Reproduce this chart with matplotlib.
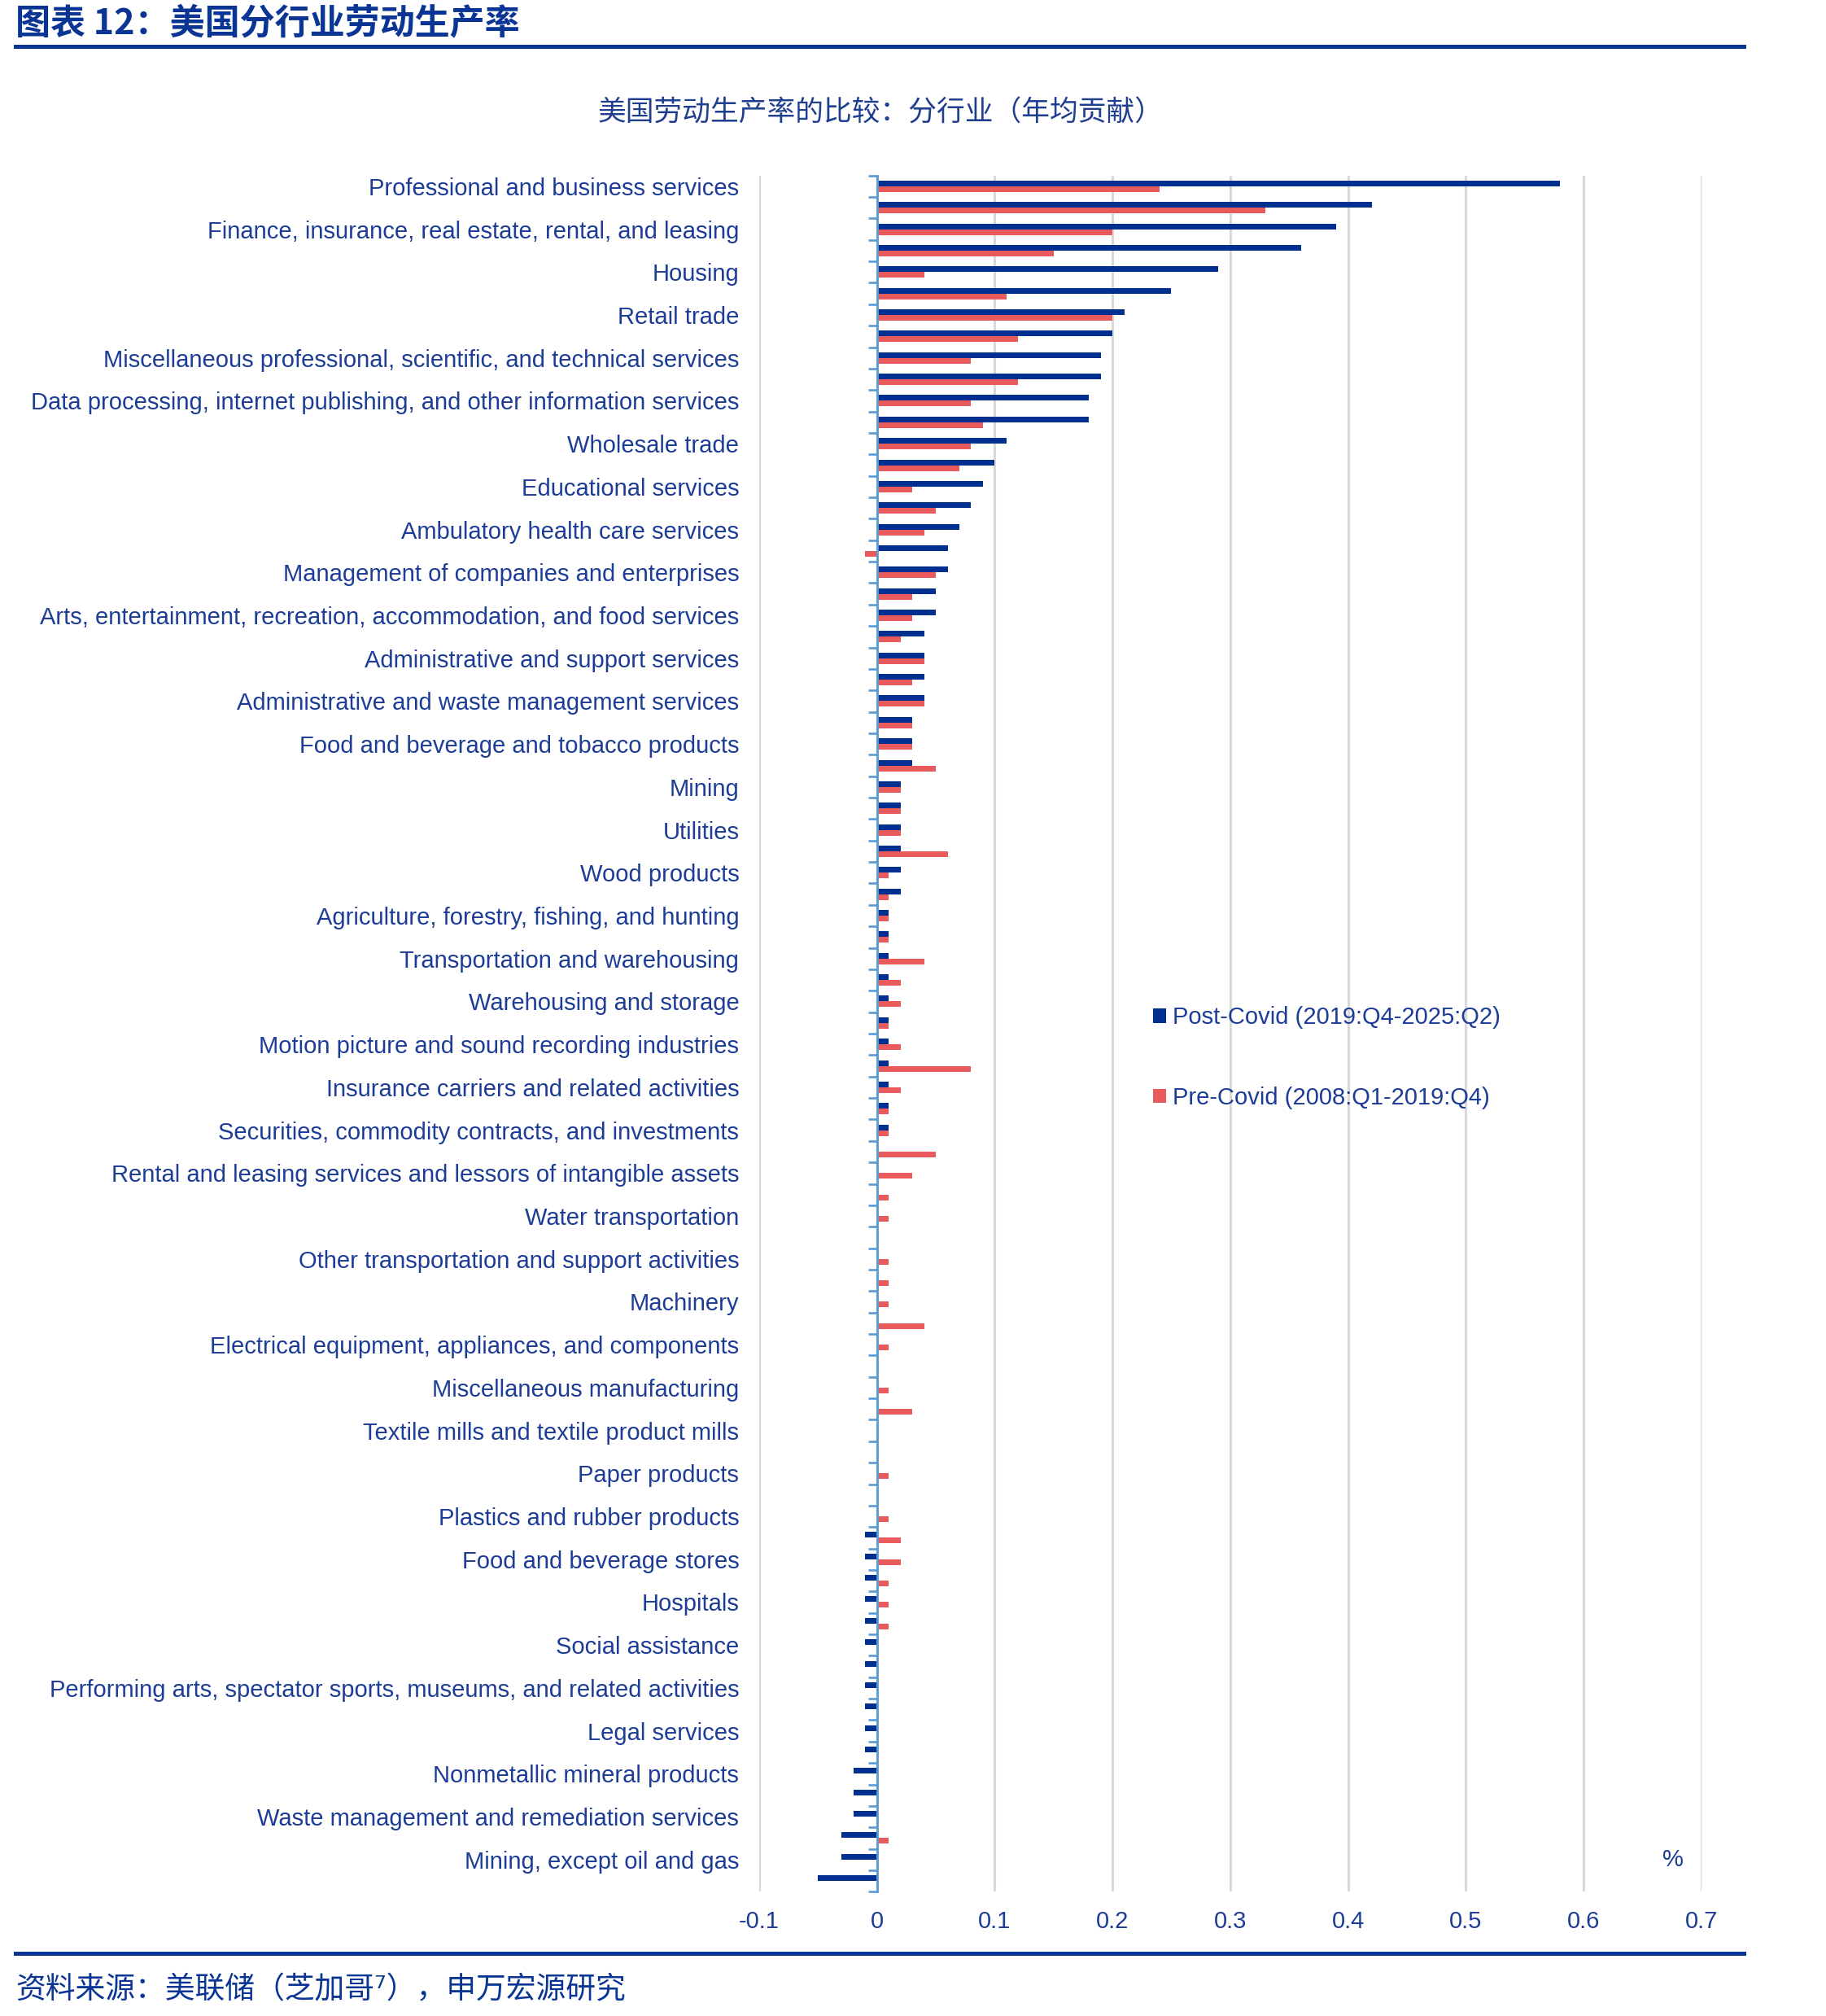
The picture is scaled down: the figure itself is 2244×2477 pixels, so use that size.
import numpy as np
import matplotlib
matplotlib.use("Agg")
import matplotlib.pyplot as plt
from matplotlib.lines import Line2D

plt.rcParams['font.family'] = ['Liberation Sans', 'Noto Sans CJK SC', 'DejaVu Sans']

# ---------------- data ----------------
shown_labels = [
    "Professional and business services",
    "Finance, insurance, real estate, rental, and leasing",
    "Housing",
    "Retail trade",
    "Miscellaneous professional, scientific, and technical services",
    "Data processing, internet publishing, and other information services",
    "Wholesale trade",
    "Educational services",
    "Ambulatory health care services",
    "Management of companies and enterprises",
    "Arts, entertainment, recreation, accommodation, and food services",
    "Administrative and support services",
    "Administrative and waste management services",
    "Food and beverage and tobacco products",
    "Mining",
    "Utilities",
    "Wood products",
    "Agriculture, forestry, fishing, and hunting",
    "Transportation and warehousing",
    "Warehousing and storage",
    "Motion picture and sound recording industries",
    "Insurance carriers and related activities",
    "Securities, commodity contracts, and investments",
    "Rental and leasing services and lessors of intangible assets",
    "Water transportation",
    "Other transportation and support activities",
    "Machinery",
    "Electrical equipment, appliances, and components",
    "Miscellaneous manufacturing",
    "Textile mills and textile product mills",
    "Paper products",
    "Plastics and rubber products",
    "Food and beverage stores",
    "Hospitals",
    "Social assistance",
    "Performing arts, spectator sports, museums, and related activities",
    "Legal services",
    "Nonmetallic mineral products",
    "Waste management and remediation services",
    "Mining, except oil and gas",
]

post_covid = [
    0.58, 0.42, 0.39, 0.36, 0.29, 0.25, 0.21, 0.20, 0.19, 0.19,
    0.18, 0.18, 0.11, 0.10, 0.09, 0.08, 0.07, 0.06, 0.06, 0.05,
    0.05, 0.04, 0.04, 0.04, 0.04, 0.03, 0.03, 0.03, 0.02, 0.02,
    0.02, 0.02, 0.02, 0.02, 0.01, 0.01, 0.01, 0.01, 0.01, 0.01,
    0.01, 0.01, 0.01, 0.01, 0.01, 0.00, 0.00, 0.00, 0.00, 0.00,
    0.00, 0.00, 0.00, 0.00, 0.00, 0.00, 0.00, 0.00, 0.00, 0.00,
    0.00, 0.00, 0.00, -0.01, -0.01, -0.01, -0.01, -0.01, -0.01, -0.01,
    -0.01, -0.01, -0.01, -0.01, -0.02, -0.02, -0.02, -0.03, -0.03, -0.05,
]

pre_covid = [
    0.24, 0.33, 0.20, 0.15, 0.04, 0.11, 0.20, 0.12, 0.08, 0.12,
    0.08, 0.09, 0.08, 0.07, 0.03, 0.05, 0.04, -0.01, 0.05, 0.03,
    0.03, 0.02, 0.04, 0.03, 0.04, 0.03, 0.03, 0.05, 0.02, 0.02,
    0.02, 0.06, 0.01, 0.01, 0.01, 0.01, 0.04, 0.02, 0.02, 0.01,
    0.02, 0.08, 0.02, 0.01, 0.01, 0.05, 0.03, 0.01, 0.01, 0.00,
    0.01, 0.01, 0.01, 0.04, 0.01, 0.00, 0.01, 0.03, 0.00, 0.00,
    0.01, 0.00, 0.01, 0.02, 0.02, 0.01, 0.01, 0.01, 0.00, 0.00,
    0.00, 0.00, 0.00, 0.00, 0.00, 0.00, 0.00, 0.01, 0.00, 0.00,
]

series_names = ["Post-Covid (2019:Q4-2025:Q2)", "Pre-Covid (2008:Q1-2019:Q4)"]
xtick_values = [-0.1, 0.0, 0.1, 0.2, 0.3, 0.4, 0.5, 0.6, 0.7]
xtick_labels = ["-0.1", "0", "0.1", "0.2", "0.3", "0.4", "0.5", "0.6", "0.7"]

title = "图表 12：美国分行业劳动生产率"
subtitle = "美国劳动生产率的比较：分行业（年均贡献）"
source = "资料来源：美联储（芝加哥⁷），申万宏源研究"

# ---------------- style ----------------
NAVY = "#00308F"
RED = "#E85A5B"
TXT = "#1C3C96"
AXIS = "#5B9BD5"
GRID = "#D9D9D9"

W, H = 2244, 2477
fig = plt.figure(figsize=(W / 100, H / 100), dpi=100)

left, right = 933 / W, 2090.7 / W
top, bottom = 1 - 215.7 / H, 1 - 2324.3 / H
ax = fig.add_axes([left, bottom, right - left, top - bottom])

n = len(post_covid)
y = np.arange(n)
bh = 0.265
b1 = ax.barh(y - bh / 2, post_covid, height=bh, color=NAVY, label=series_names[0], zorder=2)
b2 = ax.barh(y + bh / 2, pre_covid, height=bh, color=RED, label=series_names[1], zorder=2)

ax.set_xlim(-0.1, 0.7)
ax.set_ylim(n - 0.5, -0.5)

ax.set_xticks(xtick_values)
ax.set_xticklabels(xtick_labels)
ax.xaxis.grid(True, color=GRID, lw=2.2)
ax.set_axisbelow(True)
ax.tick_params(axis='x', length=0, pad=16.5, labelsize=21, labelcolor=TXT)

for s in ("top", "right", "bottom"):
    ax.spines[s].set_visible(False)
ax.spines["left"].set_position(("data", 0))
ax.spines["left"].set_color(AXIS)
ax.spines["left"].set_linewidth(2.0)
ax.spines["left"].set_zorder(3)

ax.set_yticks(np.arange(0, n, 2))
ax.set_yticklabels(shown_labels)
ax.set_yticks(np.arange(-0.5, n, 1), minor=True)
ax.tick_params(axis='y', which='major', length=0, pad=122, labelsize=21, labelcolor=TXT)
ax.tick_params(axis='y', which='minor', length=7.7, width=1.9, color=AXIS, direction='out')

leg = ax.legend(handles=[b1, b2], loc='center left', bbox_to_anchor=(0.395, 0.486),
                frameon=False, fontsize=21, handlelength=0.55, handleheight=0.55,
                handletextpad=0.3, labelspacing=2.42, labelcolor=TXT)

fig.text(2056 / W, 1 - 2285 / H, "%", fontsize=21, color=TXT, ha='center', va='center')

# header / footer
fig.text(19 / W, 1 - 28 / H, title, fontsize=31, fontweight='bold', color="#0B3594",
         ha='left', va='center', family=['Noto Sans CJK SC', 'DejaVu Sans'])
fig.add_artist(Line2D([19 / W, 2143 / W], [1 - 57 / H, 1 - 57 / H], color="#0B3594", lw=3.6,
                      transform=fig.transFigure))
fig.text(1082 / W, 1 - 139 / H, subtitle, fontsize=25, color="#1F3E8F",
         ha='center', va='center', family=['Noto Sans CJK SC', 'DejaVu Sans'])
fig.add_artist(Line2D([19 / W, 2143 / W], [1 - 2400 / H, 1 - 2400 / H], color="#0B3594", lw=3.6,
                      transform=fig.transFigure))
fig.text(19 / W, 1 - 2445 / H, source, fontsize=26.5, color="#0B3594",
         ha='left', va='center', family=['Noto Sans CJK SC', 'DejaVu Sans'])

fig.savefig("out.png", dpi=100)
